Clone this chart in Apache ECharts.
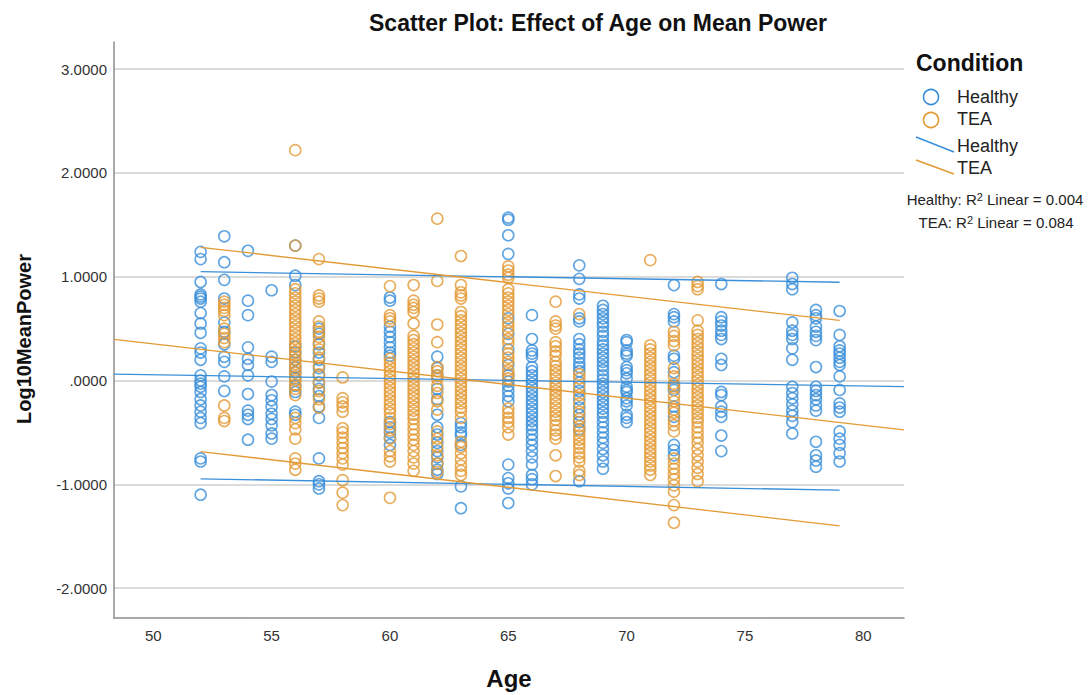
<!DOCTYPE html>
<html>
<head>
<meta charset="utf-8">
<title>Scatter Plot: Effect of Age on Mean Power</title>
<script src="https://cdn.jsdelivr.net/npm/echarts@6/dist/echarts.min.js"></script>
<style>
  html, body { margin: 0; padding: 0; background: #fff; }
  #chart { width: 1091px; height: 695px; }
</style>
</head>
<body>
<div id="chart"></div>
<script>
// Log10 mean power by age, per condition group
const healthyAges = [52, 53, 54, 55, 56, 57, 60, 62, 63, 65, 66, 68, 69, 70, 72, 74, 77, 78, 79];
const healthyValues = [
  [1.24, 1.17, 0.95, 0.83, 0.81, 0.79, 0.76, 0.65, 0.55, 0.46, 0.31, 0.27, 0.20, 0.05, 0.00, -0.03, -0.06, -0.11, -0.18, -0.24, -0.30, -0.36, -0.41, -0.75, -0.78, -1.10],
  [1.39, 1.14, 0.97, 0.79, 0.56, 0.47, 0.35, 0.23, 0.18, 0.04, -0.10],
  [1.25, 0.77, 0.63, 0.32, 0.21, 0.15, 0.05, -0.13, -0.29, -0.33, -0.37, -0.57],
  [0.87, 0.23, 0.18, -0.01, -0.14, -0.19, -0.25, -0.32, -0.37, -0.43, -0.51, -0.56],
  [1.30, 1.01, 0.92, 0.33, 0.27, 0.20, 0.13, 0.08, 0.02, -0.05, -0.11, -0.30, -0.33],
  [0.50, 0.45, 0.35, 0.27, 0.20, 0.12, 0.05, -0.02, -0.08, -0.15, -0.25, -0.36, -0.75, -0.97, -1.00, -1.04],
  [0.80, 0.77, 0.52, 0.47, 0.42, 0.37, 0.32, 0.27, 0.24, -0.40, -0.45, -0.50, -0.55, -0.62],
  [0.23, 0.12, 0.05, -0.08, -0.18, -0.33, -0.45, -0.52, -0.60, -0.68, -0.74, -0.80, -0.86, -0.90],
  [-0.41, -0.45, -0.50, -0.53, -0.62, -1.02, -1.23],
  [1.57, 1.55, 1.40, 1.22, 0.60, 0.45, 0.30, 0.15, 0.05, -0.01, -0.05, -0.10, -0.15, -0.20, -0.81, -0.94, -0.99, -1.04, -1.18],
  [0.63, 0.40, 0.29, 0.26, 0.23, 0.13, 0.09, 0.05, 0.01, -0.03, -0.07, -0.11, -0.15, -0.19, -0.23, -0.27, -0.31, -0.35, -0.39, -0.43, -0.47, -0.52, -0.57, -0.62, -0.68, -0.74, -0.81, -0.91, -0.95, -1.00],
  [1.11, 0.98, 0.83, 0.79, 0.60, 0.57, 0.40, 0.35, 0.30, 0.26, 0.22, 0.17, 0.13, 0.09, -0.02, -0.10, -0.18, -0.26, -0.33, -0.40, -0.47, -0.97],
  [0.72, 0.68, 0.64, 0.60, 0.56, 0.52, 0.47, 0.43, 0.38, 0.34, 0.30, 0.26, 0.22, 0.18, 0.14, 0.10, 0.05, 0.01, -0.03, -0.07, -0.11, -0.15, -0.19, -0.23, -0.27, -0.31, -0.35, -0.40, -0.45, -0.50, -0.55, -0.60, -0.66, -0.72, -0.78, -0.85],
  [0.39, 0.37, 0.29, 0.26, 0.24, 0.13, 0.10, 0.07, 0.02, -0.06, -0.09, -0.11, -0.17, -0.20, -0.24, -0.33, -0.36, -0.40],
  [0.92, 0.64, 0.61, 0.57, 0.24, 0.21, 0.08, -0.05, -0.09, -0.25, -0.35, -0.62, -0.67, -0.72],
  [0.93, 0.61, 0.57, 0.53, 0.48, 0.44, 0.40, 0.21, 0.15, -0.11, -0.14, -0.25, -0.30, -0.35, -0.53, -0.68],
  [0.99, 0.93, 0.88, 0.56, 0.48, 0.44, 0.40, 0.31, 0.20, -0.06, -0.12, -0.17, -0.23, -0.29, -0.34, -0.40, -0.51],
  [0.68, 0.63, 0.60, 0.52, 0.47, 0.43, 0.39, 0.13, -0.06, -0.10, -0.14, -0.18, -0.24, -0.29, -0.59, -0.72, -0.77, -0.83],
  [0.67, 0.44, 0.33, 0.29, 0.26, 0.22, 0.18, 0.15, 0.04, -0.09, -0.22, -0.26, -0.30, -0.49, -0.56, -0.62, -0.70, -0.78]
];

const teaAges = [53, 56, 57, 58, 60, 61, 62, 63, 65, 67, 68, 71, 72, 73];
const teaValues = [
  [0.76, 0.73, 0.70, 0.67, 0.63, 0.50, 0.45, 0.41, 0.37, -0.24, -0.36, -0.39],
  [2.22, 1.30, 0.88, 0.84, 0.80, 0.76, 0.72, 0.68, 0.64, 0.60, 0.56, 0.52, 0.48, 0.44, 0.40, 0.36, 0.32, 0.28, 0.24, 0.20, 0.16, 0.12, 0.08, 0.04, 0.00, -0.04, -0.08, -0.14, -0.36, -0.41, -0.47, -0.56, -0.75, -0.80, -0.86],
  [1.17, 0.82, 0.79, 0.76, 0.57, 0.52, 0.47, 0.42, 0.36, 0.30, 0.22, 0.14, 0.06, -0.02, -0.10, -0.18, -0.26],
  [0.03, -0.17, -0.21, -0.25, -0.30, -0.46, -0.50, -0.55, -0.60, -0.65, -0.70, -0.75, -0.81, -0.96, -1.08, -1.20],
  [0.91, 0.63, 0.60, 0.57, 0.21, 0.17, 0.13, 0.09, 0.05, 0.01, -0.03, -0.07, -0.11, -0.15, -0.19, -0.23, -0.27, -0.31, -0.36, -0.42, -0.48, -0.56, -0.68, -0.73, -0.78, -1.13],
  [0.92, 0.77, 0.73, 0.70, 0.66, 0.55, 0.43, 0.39, 0.35, 0.31, 0.27, 0.23, 0.19, 0.15, 0.11, 0.07, 0.03, -0.01, -0.05, -0.09, -0.13, -0.17, -0.21, -0.25, -0.29, -0.33, -0.37, -0.42, -0.47, -0.52, -0.57, -0.62, -0.68, -0.74, -0.80, -0.87],
  [1.56, 0.96, 0.54, 0.37, 0.13, 0.09, 0.05, 0.02, -0.05, -0.12, -0.20, -0.28, -0.49, -0.56, -0.64, -0.72, -0.80, -0.88],
  [1.20, 0.92, 0.85, 0.82, 0.79, 0.66, 0.62, 0.58, 0.54, 0.50, 0.46, 0.42, 0.38, 0.34, 0.30, 0.26, 0.22, 0.18, 0.14, 0.10, 0.06, 0.02, -0.02, -0.06, -0.10, -0.14, -0.18, -0.22, -0.26, -0.30, -0.36, -0.59, -0.64, -0.70, -0.76, -0.82, -0.87, -0.91],
  [1.10, 1.06, 1.02, 0.99, 0.88, 0.84, 0.80, 0.76, 0.72, 0.68, 0.64, 0.56, 0.52, 0.48, 0.40, 0.36, 0.26, 0.22, 0.18, 0.10, 0.06, 0.02, -0.27, -0.31, -0.36, -0.40, -0.45, -0.52],
  [0.76, 0.57, 0.53, 0.50, 0.37, 0.33, 0.28, 0.24, 0.18, 0.14, 0.10, 0.06, 0.02, -0.02, -0.06, -0.10, -0.14, -0.18, -0.22, -0.26, -0.30, -0.34, -0.38, -0.43, -0.48, -0.52, -0.56, -0.72, -0.92],
  [0.64, 0.06, 0.02, -0.06, -0.14, -0.22, -0.30, -0.37, -0.44, -0.49, -0.53, -0.57, -0.61, -0.65, -0.70, -0.74, -0.78, -0.87, -0.91],
  [1.16, 0.34, 0.30, 0.26, 0.22, 0.18, 0.14, 0.10, 0.06, 0.02, -0.02, -0.06, -0.10, -0.14, -0.18, -0.22, -0.26, -0.30, -0.34, -0.38, -0.42, -0.46, -0.50, -0.54, -0.58, -0.62, -0.66, -0.70, -0.74, -0.78, -0.82, -0.86, -0.91],
  [0.47, 0.43, 0.38, 0.34, 0.12, 0.04, -0.03, -0.07, -0.15, -0.20, -0.28, -0.31, -0.39, -0.43, -0.49, -0.75, -0.80, -0.85, -0.90, -0.95, -1.01, -1.07, -1.20, -1.37],
  [0.95, 0.91, 0.88, 0.58, 0.48, 0.44, 0.40, 0.36, 0.32, 0.28, 0.24, 0.20, 0.16, 0.12, 0.08, 0.04, 0.00, -0.04, -0.08, -0.12, -0.16, -0.20, -0.24, -0.28, -0.32, -0.36, -0.40, -0.45, -0.50, -0.55, -0.60, -0.66, -0.72, -0.78, -0.84, -0.90, -0.97]
];

// Linear fit lines across the axis range, and interval lines over the observed ages
const fitAges = [48.34, 81.72];
const healthyFit = [0.061, -0.059];
const teaFit = [0.396, -0.475];
const intervalAges = [52, 79];
const healthyUpper = [1.049, 0.947];
const healthyLower = [-0.947, -1.056];
const teaUpper = [1.283, 0.579];
const teaLower = [-0.684, -1.400];

// Axis ticks
const xTicks = [50, 55, 60, 65, 70, 75, 80];
const yTicks = [-2, -1, 0, 1, 2, 3];
const yRange = [-2.288, 3.262];

const BLUE = '#3a8fd9';
const ORANGE = '#e39a35';
const FONT = '"Liberation Sans", Arial, Helvetica, sans-serif';

function toPoints(ages, values) {
  const pts = [];
  ages.forEach((a, i) => values[i].forEach(v => pts.push([a, v])));
  return pts;
}
function pair(xs, ys) {
  return xs.map((x, i) => [x, ys[i]]);
}

const chart = echarts.init(document.getElementById('chart'), null, { renderer: 'svg' });

const scatterStyle = color => ({
  type: 'scatter',
  symbol: 'circle',
  symbolSize: 11,
  itemStyle: { color: 'rgba(255,255,255,0)', borderColor: color, borderWidth: 1.6 },
  emphasis: { disabled: true },
  silent: true,
  z: 2
});
const lineStyle = (color, data) => ({
  type: 'line',
  data: data,
  showSymbol: false,
  symbol: 'none',
  lineStyle: { color: color, width: 1.3 },
  silent: true,
  z: 3
});

const supStyle = { sup: { font: '11px ' + FONT, fill: '#222', verticalAlign: 'top' } };

chart.setOption({
  animation: false,
  backgroundColor: '#ffffff',
  title: {
    text: 'Scatter Plot: Effect of Age on Mean Power',
    left: 593,
    top: 6,
    textAlign: 'center',
    textStyle: { fontFamily: FONT, fontSize: 23, fontWeight: 'bold', color: '#111' }
  },
  grid: { left: 114, right: 187, top: 42, bottom: 75, containLabel: false },
  xAxis: {
    type: 'value',
    min: fitAges[0],
    max: fitAges[1],
    name: 'Age',
    nameLocation: 'middle',
    nameGap: 48,
    nameTextStyle: { fontFamily: FONT, fontSize: 24, fontWeight: 'bold', color: '#111' },
    axisLine: { show: true, onZero: false, lineStyle: { color: '#8c8c8c', width: 1.5 } },
    axisTick: { show: false, customValues: xTicks },
    axisLabel: { customValues: xTicks, fontFamily: FONT, fontSize: 15, color: '#333', margin: 10 },
    splitLine: { show: false }
  },
  yAxis: {
    type: 'value',
    min: yRange[0],
    max: yRange[1],
    axisLine: { show: true, onZero: false, lineStyle: { color: '#8c8c8c', width: 1.5 } },
    axisTick: { show: false, customValues: yTicks },
    axisLabel: {
      customValues: yTicks,
      fontFamily: FONT, fontSize: 15, color: '#333', margin: 7,
      formatter: v => (v === 0 ? '.0000' : v.toFixed(4))
    },
    splitLine: { show: true, lineStyle: { color: '#cfcfcf', width: 1.5 } }
  },
  series: [
    Object.assign(scatterStyle(BLUE), { name: 'Healthy', data: toPoints(healthyAges, healthyValues) }),
    Object.assign(scatterStyle(ORANGE), { name: 'TEA', data: toPoints(teaAges, teaValues) }),
    lineStyle(BLUE, pair(fitAges, healthyFit)),
    lineStyle(BLUE, pair(intervalAges, healthyUpper)),
    lineStyle(BLUE, pair(intervalAges, healthyLower)),
    lineStyle(ORANGE, pair(fitAges, teaFit)),
    lineStyle(ORANGE, pair(intervalAges, teaUpper)),
    lineStyle(ORANGE, pair(intervalAges, teaLower))
  ],
  graphic: [
    // y-axis title
    { type: 'text', x: 24, y: 339, rotation: Math.PI / 2,
      style: { text: 'Log10MeanPower', font: 'bold 20px ' + FONT, fill: '#111',
               align: 'center', verticalAlign: 'middle', textAlign: 'center', textVerticalAlign: 'middle' } },
    // legend
    { type: 'text', left: 916, top: 51, style: { text: 'Condition', font: 'bold 23px ' + FONT, fill: '#111' } },
    { type: 'circle', shape: { cx: 931, cy: 97, r: 7.5 }, style: { fill: 'none', stroke: BLUE, lineWidth: 1.6 } },
    { type: 'text', left: 957, top: 88, style: { text: 'Healthy', font: '18px ' + FONT, fill: '#222' } },
    { type: 'circle', shape: { cx: 931, cy: 120, r: 7.5 }, style: { fill: 'none', stroke: ORANGE, lineWidth: 1.6 } },
    { type: 'text', left: 957, top: 110, style: { text: 'TEA', font: '18px ' + FONT, fill: '#222' } },
    { type: 'line', shape: { x1: 916, y1: 137, x2: 954, y2: 152 }, style: { stroke: BLUE, lineWidth: 1.6 } },
    { type: 'text', left: 957, top: 137, style: { text: 'Healthy', font: '18px ' + FONT, fill: '#222' } },
    { type: 'line', shape: { x1: 916, y1: 160, x2: 954, y2: 174 }, style: { stroke: ORANGE, lineWidth: 1.6 } },
    { type: 'text', left: 957, top: 159, style: { text: 'TEA', font: '18px ' + FONT, fill: '#222' } },
    // fit statistics
    { type: 'text', x: 995, y: 199,
      style: { text: 'Healthy: R{sup|2} Linear = 0.004', font: '15px ' + FONT, fill: '#222', rich: supStyle,
               align: 'center', verticalAlign: 'middle', textAlign: 'center', textVerticalAlign: 'middle' } },
    { type: 'text', x: 996, y: 222,
      style: { text: 'TEA: R{sup|2} Linear = 0.084', font: '15px ' + FONT, fill: '#222', rich: supStyle,
               align: 'center', verticalAlign: 'middle', textAlign: 'center', textVerticalAlign: 'middle' } }
  ]
});
</script>
</body>
</html>
